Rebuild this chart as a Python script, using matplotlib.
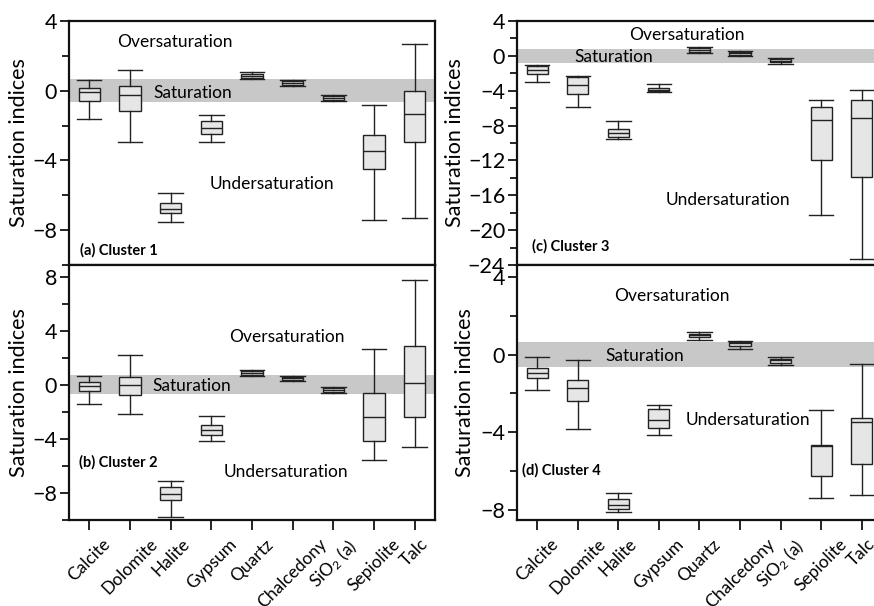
import numpy as np
import matplotlib
matplotlib.use("Agg")
import matplotlib.pyplot as plt
from matplotlib.ticker import MultipleLocator

plt.rcParams['font.family'] = ['Lato', 'DejaVu Sans']
plt.rcParams['mathtext.default'] = 'regular'

# mineral phases on the x axis
minerals = ['Calcite', 'Dolomite', 'Halite', 'Gypsum', 'Quartz', 'Chalcedony',
            'SiO$_2$ (a)', 'Sepiolite', 'Talc']

# box statistics, one list per quantity
c1_low = [-1.63, -2.95, -7.55, -2.95, 0.68, 0.25, -0.59, -7.41, -7.32]
c1_q1 = [-0.60, -1.17, -7.03, -2.47, 0.73, 0.31, -0.52, -4.50, -2.95]
c1_med = [-0.10, -0.23, -6.76, -2.13, 0.84, 0.44, -0.42, -3.47, -1.36]
c1_q3 = [0.13, 0.25, -6.47, -1.76, 0.95, 0.54, -0.33, -2.55, -0.02]
c1_high = [0.60, 1.19, -5.84, -1.42, 1.05, 0.60, -0.25, -0.79, 2.68]

c2_low = [-1.40, -2.17, -9.75, -4.19, 0.66, 0.25, -0.62, -5.54, -4.58]
c2_q1 = [-0.44, -0.76, -8.50, -3.74, 0.74, 0.32, -0.52, -4.16, -2.36]
c2_med = [-0.12, 0.00, -8.08, -3.35, 0.86, 0.47, -0.37, -2.36, 0.12]
c2_q3 = [0.17, 0.57, -7.59, -3.00, 0.98, 0.57, -0.27, -0.64, 2.83]
c2_high = [0.66, 2.19, -7.12, -2.29, 1.08, 0.64, -0.17, 2.66, 7.76]

c3_low = [-2.99, -5.90, -9.55, -4.14, 0.38, -0.04, -0.88, -18.30, -23.32]
c3_q1 = [-2.07, -4.33, -9.28, -4.03, 0.50, 0.12, -0.73, -11.97, -13.92]
c3_med = [-1.61, -3.38, -8.90, -3.91, 0.69, 0.35, -0.54, -7.36, -7.17]
c3_q3 = [-1.15, -2.45, -8.44, -3.72, 0.92, 0.50, -0.38, -5.91, -5.06]
c3_high = [-1.04, -2.26, -7.48, -3.18, 1.07, 0.58, -0.27, -5.10, -3.95]

c4_low = [-1.80, -3.83, -8.11, -4.12, 0.76, 0.31, -0.53, -7.37, -7.20]
c4_q1 = [-1.20, -2.41, -7.96, -3.76, 0.89, 0.46, -0.43, -6.25, -5.62]
c4_med = [-0.95, -1.74, -7.73, -3.37, 0.98, 0.58, -0.29, -4.72, -3.45]
c4_q3 = [-0.70, -1.32, -7.42, -2.82, 1.08, 0.67, -0.21, -4.67, -3.25]
c4_high = [-0.15, -0.29, -7.13, -2.61, 1.15, 0.72, -0.14, -2.87, -0.50]

# half width of the grey "saturation" band in each panel
band = [0.65, 0.70, 0.80, 0.64]

fig = plt.figure(figsize=(8.74, 6.06), dpi=100)

# [left, bottom, width, height], right column runs past the figure edge like the original
panels = [
    dict(rect=[0.0789, 0.5627, 0.4188, 0.4026], stats=(c1_low, c1_q1, c1_med, c1_q3, c1_high),
         ylim=(-10, 4), title='(a) Cluster 1', title_xy=(0.76, -9.15),
         over=(3.1, 2.78), sat=(2.57, -0.12), under=(5.5, -5.36), lab_x=-0.11, xlabels=False),
    dict(rect=[0.0789, 0.1419, 0.4188, 0.4208], stats=(c2_low, c2_q1, c2_med, c2_q3, c2_high),
         ylim=(-10, 8.85), title='(b) Cluster 2', title_xy=(0.74, -5.74),
         over=(5.86, 3.52), sat=(2.55, -0.07), under=(5.84, -6.45), lab_x=-0.11, xlabels=True),
    dict(rect=[0.5915, 0.5627, 0.4176, 0.4026], stats=(c3_low, c3_q1, c3_med, c3_q3, c3_high),
         ylim=(-24, 4), title='(c) Cluster 3', title_xy=(0.87, -21.9),
         over=(4.69, 2.42), sat=(1.91, -0.08), under=(5.7, -16.5), lab_x=-0.142, xlabels=False),
    dict(rect=[0.5915, 0.1419, 0.4176, 0.4208], stats=(c4_low, c4_q1, c4_med, c4_q3, c4_high),
         ylim=(-8.5, 4.6), title='(d) Cluster 4', title_xy=(0.63, -5.93),
         over=(4.33, 3.0), sat=(2.67, -0.09), under=(6.2, -3.35), lab_x=-0.115, xlabels=True),
]

pos = np.arange(1, len(minerals) + 1)

for i, p in enumerate(panels):
    ax = fig.add_axes(p['rect'])
    low, q1, med, q3, high = p['stats']
    bxp_stats = [dict(whislo=low[k], q1=q1[k], med=med[k], q3=q3[k], whishi=high[k], fliers=[])
                 for k in range(len(minerals))]

    ax.axhspan(-band[i], band[i], color='#c8c8c8', lw=0, zorder=0)
    ax.bxp(bxp_stats, positions=pos, widths=0.52, capwidths=0.6, patch_artist=True,
           showfliers=False,
           boxprops=dict(facecolor='#e6e6e6', edgecolor='#222222', lw=1.0),
           medianprops=dict(color='#222222', lw=1.0),
           whiskerprops=dict(color='#222222', lw=1.0),
           capprops=dict(color='#222222', lw=1.0))

    ax.set_xlim(0.5, 9.5)
    ax.set_ylim(*p['ylim'])
    ax.yaxis.set_major_locator(MultipleLocator(4))
    ax.yaxis.set_minor_locator(MultipleLocator(2))
    ax.set_xticks(pos)
    for s in ax.spines.values():
        s.set_linewidth(1.6)
        s.set_color('#111111')

    ax.tick_params(axis='y', which='major', direction='out', length=6.5, width=1.2,
                   labelsize=15.5, pad=2)
    ax.tick_params(axis='y', which='minor', direction='out', length=5, width=1.2)
    if p['xlabels']:
        ax.set_xticklabels(minerals, rotation=45, ha='center', va='top', fontsize=12.5)
        ax.tick_params(axis='x', direction='out', length=7.5, width=1.2, pad=4)
    else:
        ax.set_xticklabels([])
        ax.tick_params(axis='x', direction='out', length=5, width=1.2)

    ax.set_ylabel('Saturation indices', fontsize=15.5)
    ax.yaxis.set_label_coords(p['lab_x'], 0.5)

    ax.text(*p['over'], 'Oversaturation', fontsize=12.5, ha='center', va='center')
    ax.text(*p['sat'], 'Saturation', fontsize=12.5, ha='left', va='center')
    ax.text(*p['under'], 'Undersaturation', fontsize=12.5, ha='center', va='center')
    ax.text(*p['title_xy'], p['title'], fontsize=10.5, fontweight='bold', ha='left', va='center')

fig.savefig('out.png', dpi=100)
